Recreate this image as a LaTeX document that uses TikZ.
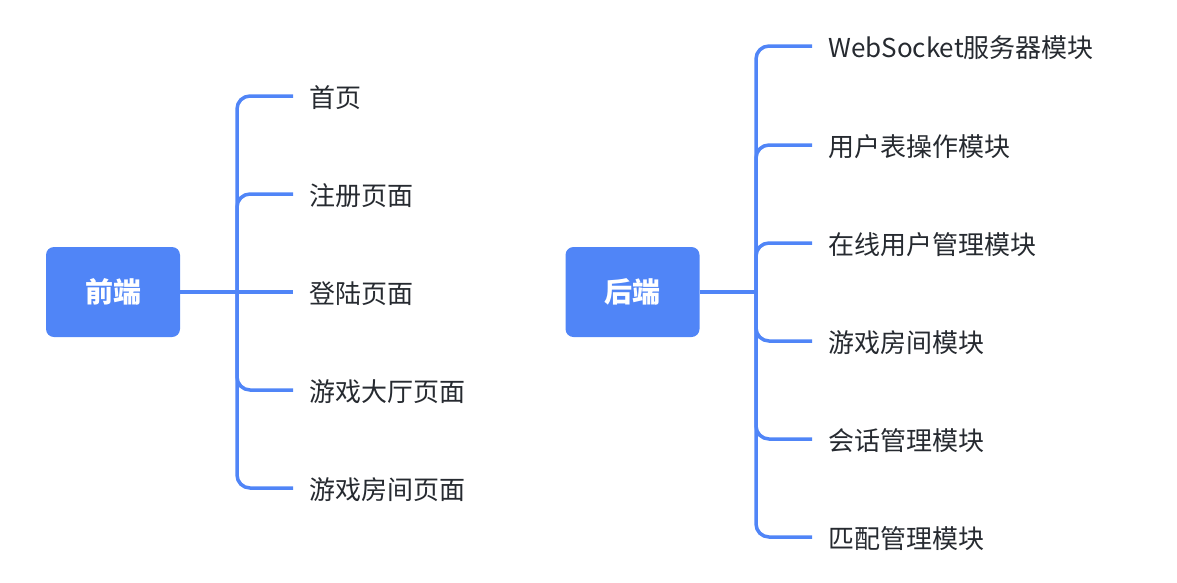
\documentclass[tikz,border=0pt]{standalone}
\usepackage{fontspec}
\setmainfont{Noto Sans CJK SC}
\definecolor{mblue}{HTML}{5085F7}
\definecolor{mtext}{HTML}{262A30}
\begin{document}
\begin{tikzpicture}[x=1pt,y=-1pt,
  rootbox/.style={draw=none,fill=mblue,rounded corners=8pt,minimum width=134pt,minimum height=90pt,text=white,font=\fontsize{28}{32}\selectfont\bfseries,inner sep=0pt},
  leaf/.style={anchor=west,inner xsep=16pt,inner ysep=0pt,text=mtext,font=\fontsize{26}{30}\selectfont,yshift=-2pt},
  conn/.style={draw=mblue,line width=3.5pt},
  branch/.style={conn,rounded corners=13pt}]
\useasboundingbox (0,0) rectangle (1177,582);
% left tree
\node[rootbox] (fe) at (113,292) {前端};
\coordinate (lt) at (237,292);
\coordinate (lb1) at (293,96);
\coordinate (lb2) at (293,194);
\coordinate (lb3) at (293,292);
\coordinate (lb4) at (293,390);
\coordinate (lb5) at (293,488);
\node[leaf] (l1) at (lb1) {首页};
\node[leaf] (l2) at (lb2) {注册页面};
\node[leaf] (l3) at (lb3) {登陆页面};
\node[leaf] (l4) at (lb4) {游戏大厅页面};
\node[leaf] (l5) at (lb5) {游戏房间页面};
\draw[conn] (fe.east) -- (lt);
\foreach \n in {lb1,lb2,lb4,lb5} {\draw[branch] (lt) |- (\n);}
\draw[conn] (lt) -- (lb3);
% right tree
\node[rootbox] (be) at (632.5,292) {后端};
\coordinate (rt) at (756,292);
\coordinate (rb1) at (812,46);
\coordinate (rb2) at (812,145);
\coordinate (rb3) at (812,243);
\coordinate (rb4) at (812,341);
\coordinate (rb5) at (812,439);
\coordinate (rb6) at (812,537);
\node[leaf] (r1) at (rb1) {WebSocket服务器模块};
\node[leaf] (r2) at (rb2) {用户表操作模块};
\node[leaf] (r3) at (rb3) {在线用户管理模块};
\node[leaf] (r4) at (rb4) {游戏房间模块};
\node[leaf] (r5) at (rb5) {会话管理模块};
\node[leaf] (r6) at (rb6) {匹配管理模块};
\draw[conn] (be.east) -- (rt);
\foreach \n in {rb1,rb2,rb3,rb4,rb5,rb6} {\draw[branch] (rt) |- (\n);}
\end{tikzpicture}
\end{document}
